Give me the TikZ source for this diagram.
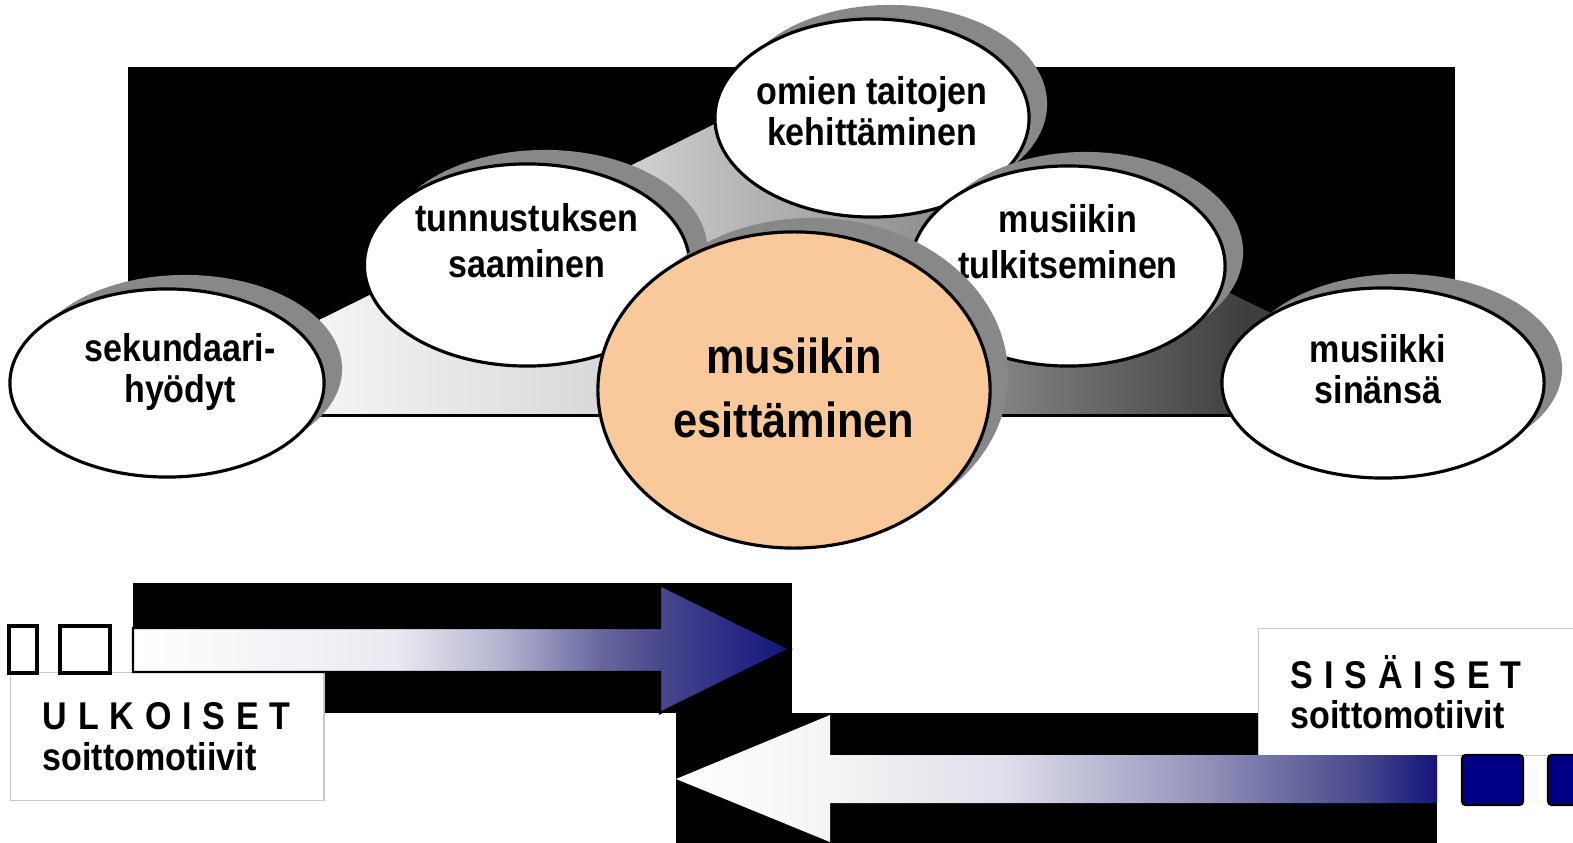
\documentclass[tikz,border=0pt]{standalone}
\usepackage{fontspec}
\setmainfont{Liberation Sans}
\newfontfamily\narrowfont[FakeStretch=0.88]{Liberation Sans}
\usepackage{tikz}
\usetikzlibrary{shapes.geometric, shadows, positioning}
\definecolor{shadowgray}{RGB}{136,136,136}
\definecolor{peach}{RGB}{250,201,153}
\definecolor{arrowblue}{RGB}{40,40,120}
\definecolor{deepnavy}{RGB}{20,20,125}
\definecolor{squarenavy}{RGB}{0,0,135}
\definecolor{boxline}{RGB}{200,200,200}
\pgfdeclarehorizontalshading{bandshade}{100bp}{color(0bp)=(white); color(25bp)=(white); color(31.5bp)=(black!5); color(42.5bp)=(black!15); color(46.7bp)=(black!25); color(59.6bp)=(black!50); color(69.2bp)=(black!75); color(75bp)=(black!80); color(100bp)=(black!80)}
\pgfdeclarehorizontalshading{outshade}{100bp}{color(0bp)=(white); color(25bp)=(white); color(45bp)=(arrowblue!10); color(53bp)=(arrowblue!35); color(60.5bp)=(arrowblue!70); color(65bp)=(arrowblue!85); color(75bp)=(deepnavy); color(100bp)=(deepnavy)}
\pgfdeclarehorizontalshading{inshade}{100bp}{color(0bp)=(white); color(25bp)=(white); color(35bp)=(black!4); color(46.5bp)=(arrowblue!15); color(59.5bp)=(arrowblue!50); color(70bp)=(arrowblue!85); color(75bp)=(deepnavy); color(100bp)=(deepnavy)}
\newcommand{\spacedcaps}[1]{\mbox{\spaceskip=0.28em\relax #1}}
\tikzstyle{bubble} = [ellipse, draw=black, line width=0.9pt, fill=white, inner sep=0pt, general shadow={fill=shadowgray, shadow xshift=0.18cm, shadow yshift=0.14cm}]
\tikzstyle{bubbletext} = [align=center, font=\narrowfont\bfseries\fontsize{11}{11.6}\selectfont]
\tikzstyle{labelbox} = [rectangle, draw=boxline, fill=white, anchor=north west, align=left, inner xsep=0.32cm, font=\narrowfont\bfseries\fontsize{11}{11.6}\selectfont]
\tikzstyle{blockbar} = [line width=1.1pt, draw=black]

\begin{document}
\begin{tikzpicture}[x=0.01cm, y=-0.01cm]
    \useasboundingbox (0,0) rectangle (1573,843);
    \clip (0,0) rectangle (1573,843);

    % Backdrop and band
    \fill[black] (128,67) rectangle (1455,417);
    \shade[shading=bandshade] (180,389) -- (870,47) -- (1100,230) -- (1380,366) -- (1380,414) -- (180,414) -- cycle;

    % Motive bubbles
    \node[bubble, minimum width=3.14cm, minimum height=1.98cm] (skills) at (872,118) {};
    \node[bubbletext] (skillstxt) at (872,111) {omien taitojen\\kehittäminen};

    \node[bubble, minimum width=3.25cm, minimum height=2.02cm] (recog) at (527,265) {};
    \node[bubbletext, font=\narrowfont\bfseries\fontsize{11}{13}\selectfont] (recogtxt) at (527,241) {tunnustuksen\\saaminen};

    \node[bubble, minimum width=3.14cm, minimum height=2.00cm] (interp) at (1068,266) {};
    \node[bubbletext, font=\narrowfont\bfseries\fontsize{11}{13}\selectfont] (interptxt) at (1068,242) {musiikin\\tulkitseminen};

    \node[bubble, minimum width=3.14cm, minimum height=1.88cm] (second) at (167,383) {};
    \node[bubbletext] (secondtxt) at (180,372) {sekundaari-\\hyödyt};

    \node[bubble, minimum width=3.22cm, minimum height=1.90cm] (itself) at (1383,383) {};
    \node[bubbletext] (itselftxt) at (1378,369) {musiikki\\sinänsä};

    % Centre
    \node[bubble, fill=peach, minimum width=3.92cm, minimum height=3.16cm] (perform) at (794,390) {};
    \node[bubbletext, font=\narrowfont\bfseries\fontsize{14}{18}\selectfont] (performtxt) at (794,388) {musiikin\\esittäminen};

    % Lower blocks
    \fill[black] (133,583) rectangle (792,713);
    \fill[black] (676,713) rectangle (1437,843);

    \node[labelbox, text width=2.49cm, minimum height=1.28cm] (outer) at (10,672) {\spacedcaps{U L K O I S E T}\\soittomotiivit};
    \node[labelbox, text width=2.66cm, minimum height=1.27cm] (inner) at (1258,628) {\spacedcaps{S I S Ä I S E T}\\soittomotiivit};

    % Outer arrow
    \shade[shading=outshade, blockbar, line width=0.7pt] (133,628) -- (660,628) -- (660,585) -- (790,649) -- (660,713) -- (660,672) -- (133,672) -- cycle;
    \draw[blockbar, fill=white] (9,626) rectangle (37,673);
    \draw[blockbar, fill=white] (60,626) rectangle (110,673);

    % Inner arrow
    \shade[shading=inshade] (1437,755) -- (830,755) -- (830,715) -- (676,779) -- (830,842) -- (830,803) -- (1437,803) -- cycle;
    \draw[line width=0.6pt, fill=squarenavy, rounded corners=1pt] (1462,755) rectangle (1523,805);
    \draw[line width=0.6pt, fill=squarenavy, rounded corners=1pt] (1548,755) rectangle (1600,805);
\end{tikzpicture}
\end{document}
